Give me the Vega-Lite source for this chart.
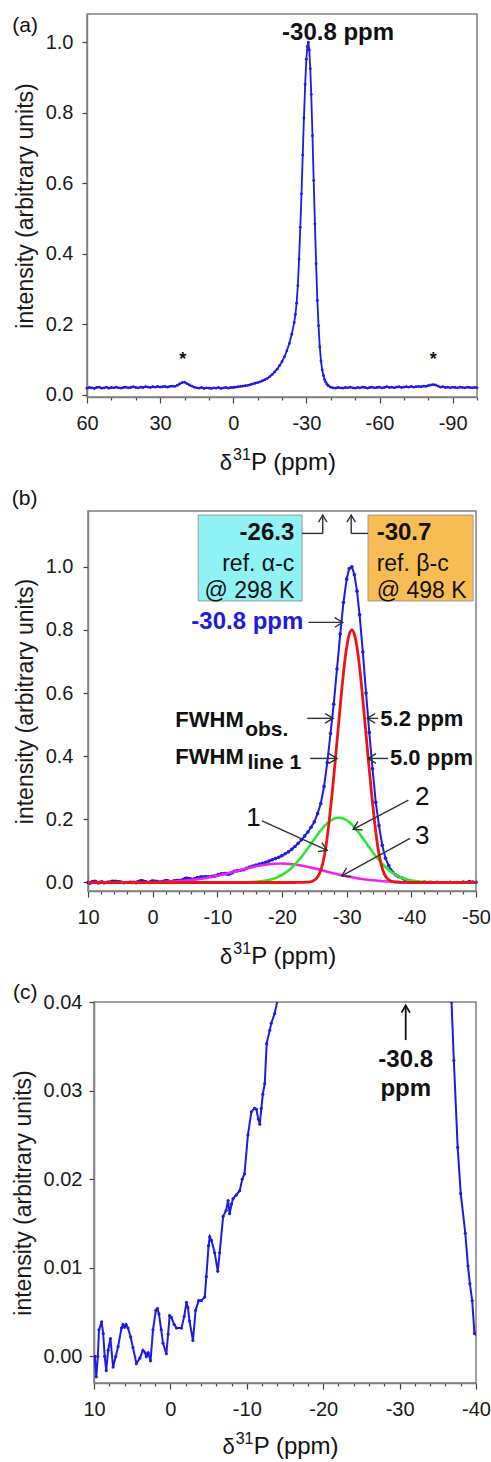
{
  "$schema": "https://vega.github.io/schema/vega-lite/v6.json",
  "padding": {"left": 10, "top": 13, "right": 0, "bottom": 0},
  "background": "white",
  "spacing": 10,
  "config": {
    "font": "Liberation Sans",
    "view": {"stroke": "#808080", "strokeWidth": 1.5},
    "axis": {
      "labelFont": "Liberation Sans",
      "labelFontSize": 20,
      "labelColor": "#1a1a1a",
      "titleFont": "Liberation Sans",
      "titleFontSize": 23,
      "titleFontWeight": "normal",
      "titleColor": "#1a1a1a",
      "grid": false,
      "domainColor": "#808080",
      "domainWidth": 1.5,
      "tickColor": "#404040",
      "tickWidth": 1.2,
      "labelFlush": false,
      "labelOverlap": false
    },
    "text": {"font": "Liberation Sans", "baseline": "middle", "color": "#111"}
  },
  "datasets": {
    "spectrum_a": [
      {"ppm": 60, "intensity": 0.019}, {"ppm": 59, "intensity": 0.021}, {"ppm": 58, "intensity": 0.020}, {"ppm": 57, "intensity": 0.018},
      {"ppm": 56, "intensity": 0.021}, {"ppm": 55, "intensity": 0.022}, {"ppm": 54, "intensity": 0.019}, {"ppm": 53, "intensity": 0.020},
      {"ppm": 52, "intensity": 0.022}, {"ppm": 51, "intensity": 0.019}, {"ppm": 50, "intensity": 0.021}, {"ppm": 49, "intensity": 0.020},
      {"ppm": 48, "intensity": 0.022}, {"ppm": 47, "intensity": 0.020}, {"ppm": 46, "intensity": 0.019}, {"ppm": 45, "intensity": 0.021},
      {"ppm": 44, "intensity": 0.022}, {"ppm": 43, "intensity": 0.020}, {"ppm": 42, "intensity": 0.021}, {"ppm": 41, "intensity": 0.023},
      {"ppm": 40, "intensity": 0.021}, {"ppm": 39, "intensity": 0.020}, {"ppm": 38, "intensity": 0.022}, {"ppm": 37, "intensity": 0.021},
      {"ppm": 36, "intensity": 0.023}, {"ppm": 35, "intensity": 0.022}, {"ppm": 34, "intensity": 0.021}, {"ppm": 33, "intensity": 0.023},
      {"ppm": 32, "intensity": 0.022}, {"ppm": 31, "intensity": 0.024}, {"ppm": 30, "intensity": 0.022}, {"ppm": 29, "intensity": 0.023},
      {"ppm": 28, "intensity": 0.024}, {"ppm": 27, "intensity": 0.022}, {"ppm": 26, "intensity": 0.024}, {"ppm": 25, "intensity": 0.025},
      {"ppm": 24, "intensity": 0.024}, {"ppm": 23, "intensity": 0.027}, {"ppm": 22, "intensity": 0.031}, {"ppm": 21, "intensity": 0.035},
      {"ppm": 20, "intensity": 0.036}, {"ppm": 19, "intensity": 0.032}, {"ppm": 18, "intensity": 0.028}, {"ppm": 17, "intensity": 0.025},
      {"ppm": 16, "intensity": 0.022}, {"ppm": 15, "intensity": 0.020}, {"ppm": 14, "intensity": 0.019}, {"ppm": 13, "intensity": 0.021},
      {"ppm": 12, "intensity": 0.018}, {"ppm": 11, "intensity": 0.020}, {"ppm": 10, "intensity": 0.019}, {"ppm": 9, "intensity": 0.018},
      {"ppm": 8, "intensity": 0.020}, {"ppm": 7, "intensity": 0.019}, {"ppm": 6, "intensity": 0.021}, {"ppm": 5, "intensity": 0.018},
      {"ppm": 4, "intensity": 0.020}, {"ppm": 3, "intensity": 0.021}, {"ppm": 2, "intensity": 0.019}, {"ppm": 1, "intensity": 0.021},
      {"ppm": 0, "intensity": 0.021}, {"ppm": -1, "intensity": 0.022}, {"ppm": -2, "intensity": 0.023}, {"ppm": -3, "intensity": 0.024},
      {"ppm": -4, "intensity": 0.025}, {"ppm": -5, "intensity": 0.026}, {"ppm": -6, "intensity": 0.027}, {"ppm": -7, "intensity": 0.029},
      {"ppm": -8, "intensity": 0.031}, {"ppm": -9, "intensity": 0.033}, {"ppm": -10, "intensity": 0.035}, {"ppm": -11, "intensity": 0.037},
      {"ppm": -12, "intensity": 0.040}, {"ppm": -13, "intensity": 0.043}, {"ppm": -14, "intensity": 0.047}, {"ppm": -15, "intensity": 0.052},
      {"ppm": -16, "intensity": 0.058}, {"ppm": -17, "intensity": 0.065}, {"ppm": -18, "intensity": 0.073}, {"ppm": -19, "intensity": 0.083},
      {"ppm": -20, "intensity": 0.094}, {"ppm": -21, "intensity": 0.108}, {"ppm": -22, "intensity": 0.125}, {"ppm": -23, "intensity": 0.146},
      {"ppm": -24, "intensity": 0.172}, {"ppm": -25, "intensity": 0.205}, {"ppm": -25.5, "intensity": 0.228}, {"ppm": -26, "intensity": 0.26},
      {"ppm": -26.5, "intensity": 0.31}, {"ppm": -27, "intensity": 0.385}, {"ppm": -27.5, "intensity": 0.475}, {"ppm": -28, "intensity": 0.57},
      {"ppm": -28.5, "intensity": 0.68}, {"ppm": -29, "intensity": 0.785}, {"ppm": -29.5, "intensity": 0.88}, {"ppm": -30, "intensity": 0.952},
      {"ppm": -30.4, "intensity": 0.988}, {"ppm": -30.8, "intensity": 1.0}, {"ppm": -31.2, "intensity": 0.978}, {"ppm": -31.6, "intensity": 0.925},
      {"ppm": -32, "intensity": 0.852}, {"ppm": -32.5, "intensity": 0.735}, {"ppm": -33, "intensity": 0.608}, {"ppm": -33.5, "intensity": 0.485},
      {"ppm": -34, "intensity": 0.372}, {"ppm": -34.5, "intensity": 0.268}, {"ppm": -35, "intensity": 0.196}, {"ppm": -35.5, "intensity": 0.136},
      {"ppm": -36, "intensity": 0.096}, {"ppm": -36.5, "intensity": 0.071}, {"ppm": -37, "intensity": 0.055}, {"ppm": -37.5, "intensity": 0.043},
      {"ppm": -38, "intensity": 0.036}, {"ppm": -38.5, "intensity": 0.030}, {"ppm": -39, "intensity": 0.026}, {"ppm": -40, "intensity": 0.022},
      {"ppm": -41, "intensity": 0.020}, {"ppm": -42, "intensity": 0.019}, {"ppm": -43, "intensity": 0.021}, {"ppm": -44, "intensity": 0.020},
      {"ppm": -45, "intensity": 0.019}, {"ppm": -46, "intensity": 0.021}, {"ppm": -47, "intensity": 0.020}, {"ppm": -48, "intensity": 0.022},
      {"ppm": -49, "intensity": 0.020}, {"ppm": -50, "intensity": 0.019}, {"ppm": -51, "intensity": 0.021}, {"ppm": -52, "intensity": 0.020},
      {"ppm": -53, "intensity": 0.022}, {"ppm": -54, "intensity": 0.021}, {"ppm": -55, "intensity": 0.019}, {"ppm": -56, "intensity": 0.021},
      {"ppm": -57, "intensity": 0.022}, {"ppm": -58, "intensity": 0.020}, {"ppm": -59, "intensity": 0.021}, {"ppm": -60, "intensity": 0.022},
      {"ppm": -61, "intensity": 0.020}, {"ppm": -62, "intensity": 0.021}, {"ppm": -63, "intensity": 0.023}, {"ppm": -64, "intensity": 0.021},
      {"ppm": -65, "intensity": 0.022}, {"ppm": -66, "intensity": 0.020}, {"ppm": -67, "intensity": 0.022}, {"ppm": -68, "intensity": 0.023},
      {"ppm": -69, "intensity": 0.021}, {"ppm": -70, "intensity": 0.022}, {"ppm": -71, "intensity": 0.023}, {"ppm": -72, "intensity": 0.022},
      {"ppm": -73, "intensity": 0.024}, {"ppm": -74, "intensity": 0.022}, {"ppm": -75, "intensity": 0.023}, {"ppm": -76, "intensity": 0.024},
      {"ppm": -77, "intensity": 0.023}, {"ppm": -78, "intensity": 0.025}, {"ppm": -79, "intensity": 0.024}, {"ppm": -80, "intensity": 0.026},
      {"ppm": -81, "intensity": 0.028}, {"ppm": -82, "intensity": 0.029}, {"ppm": -83, "intensity": 0.028}, {"ppm": -84, "intensity": 0.025},
      {"ppm": -85, "intensity": 0.022}, {"ppm": -86, "intensity": 0.023}, {"ppm": -87, "intensity": 0.021}, {"ppm": -88, "intensity": 0.022},
      {"ppm": -89, "intensity": 0.020}, {"ppm": -90, "intensity": 0.022}, {"ppm": -91, "intensity": 0.021}, {"ppm": -92, "intensity": 0.020},
      {"ppm": -93, "intensity": 0.022}, {"ppm": -94, "intensity": 0.021}, {"ppm": -95, "intensity": 0.020}, {"ppm": -96, "intensity": 0.022},
      {"ppm": -97, "intensity": 0.021}, {"ppm": -98, "intensity": 0.020}, {"ppm": -99, "intensity": 0.021}, {"ppm": -100, "intensity": 0.020}
    ],
    "observed": [
      {"ppm": 10.0, "intensity": 0.0}, {"ppm": 9.9, "intensity": 0.0}, {"ppm": 9.7, "intensity": -0.0023}, {"ppm": 9.5, "intensity": 0.0},
      {"ppm": 9.35, "intensity": 0.003}, {"ppm": 9.0, "intensity": 0.0039}, {"ppm": 8.8, "intensity": 0.0026}, {"ppm": 8.6, "intensity": 0.0},
      {"ppm": 8.4, "intensity": -0.0016}, {"ppm": 8.15, "intensity": 0.0007}, {"ppm": 7.85, "intensity": 0.002}, {"ppm": 7.5, "intensity": -0.0012},
      {"ppm": 7.15, "intensity": 0.0}, {"ppm": 6.85, "intensity": 0.0011}, {"ppm": 6.4, "intensity": 0.0032}, {"ppm": 6.2, "intensity": 0.0036},
      {"ppm": 6.0, "intensity": 0.0033}, {"ppm": 5.8, "intensity": 0.0036}, {"ppm": 5.55, "intensity": 0.0032}, {"ppm": 5.2, "intensity": 0.0022},
      {"ppm": 4.9, "intensity": 0.001}, {"ppm": 4.45, "intensity": -0.0008}, {"ppm": 4.0, "intensity": -0.0002}, {"ppm": 3.6, "intensity": 0.0007},
      {"ppm": 3.3, "intensity": 0.0004}, {"ppm": 3.15, "intensity": 0.0}, {"ppm": 2.9, "intensity": 0.0004}, {"ppm": 2.6, "intensity": -0.0005},
      {"ppm": 2.28, "intensity": 0.003}, {"ppm": 1.9, "intensity": 0.0052}, {"ppm": 1.7, "intensity": 0.0054}, {"ppm": 1.5, "intensity": 0.0048},
      {"ppm": 1.2, "intensity": 0.003}, {"ppm": 0.97, "intensity": 0.0015}, {"ppm": 0.53, "intensity": 0.0003}, {"ppm": 0.3, "intensity": 0.0025},
      {"ppm": 0.1, "intensity": 0.0046}, {"ppm": -0.13, "intensity": 0.0044}, {"ppm": -0.5, "intensity": 0.0036}, {"ppm": -0.8, "intensity": 0.0032},
      {"ppm": -1.45, "intensity": 0.0032}, {"ppm": -1.8, "intensity": 0.0045}, {"ppm": -2.1, "intensity": 0.0061}, {"ppm": -2.3, "intensity": 0.0055},
      {"ppm": -2.5, "intensity": 0.004}, {"ppm": -2.95, "intensity": 0.0018}, {"ppm": -3.3, "intensity": 0.0052}, {"ppm": -3.7, "intensity": 0.0063},
      {"ppm": -4.05, "intensity": 0.0063}, {"ppm": -4.5, "intensity": 0.0067}, {"ppm": -4.7, "intensity": 0.009}, {"ppm": -5.0, "intensity": 0.0125},
      {"ppm": -5.15, "intensity": 0.0135}, {"ppm": -5.37, "intensity": 0.0131}, {"ppm": -5.8, "intensity": 0.0117}, {"ppm": -6.2, "intensity": 0.0096},
      {"ppm": -6.45, "intensity": 0.0117}, {"ppm": -6.9, "intensity": 0.0158}, {"ppm": -7.3, "intensity": 0.0165}, {"ppm": -7.55, "intensity": 0.0176},
      {"ppm": -7.76, "intensity": 0.0161}, {"ppm": -8.0, "intensity": 0.0172}, {"ppm": -8.2, "intensity": 0.0178}, {"ppm": -8.6, "intensity": 0.0182},
      {"ppm": -9.07, "intensity": 0.0187}, {"ppm": -9.4, "intensity": 0.02}, {"ppm": -9.7, "intensity": 0.0206}, {"ppm": -10.15, "intensity": 0.025},
      {"ppm": -10.6, "intensity": 0.0276}, {"ppm": -11.0, "intensity": 0.028}, {"ppm": -11.26, "intensity": 0.0279}, {"ppm": -11.5, "intensity": 0.0268},
      {"ppm": -11.7, "intensity": 0.0262}, {"ppm": -11.9, "intensity": 0.028}, {"ppm": -12.1, "intensity": 0.0296}, {"ppm": -12.35, "intensity": 0.0308},
      {"ppm": -12.6, "intensity": 0.0353}, {"ppm": -13.0, "intensity": 0.0368}, {"ppm": -13.2, "intensity": 0.0376}, {"ppm": -13.65, "intensity": 0.0387},
      {"ppm": -14.1, "intensity": 0.0405}, {"ppm": -14.5, "intensity": 0.045}, {"ppm": -15, "intensity": 0.049}, {"ppm": -15.5, "intensity": 0.052},
      {"ppm": -16, "intensity": 0.055}, {"ppm": -16.5, "intensity": 0.058}, {"ppm": -17, "intensity": 0.061}, {"ppm": -17.5, "intensity": 0.064},
      {"ppm": -18, "intensity": 0.068}, {"ppm": -18.5, "intensity": 0.072}, {"ppm": -19, "intensity": 0.076}, {"ppm": -19.5, "intensity": 0.080},
      {"ppm": -20, "intensity": 0.085}, {"ppm": -20.5, "intensity": 0.091}, {"ppm": -21, "intensity": 0.097}, {"ppm": -21.5, "intensity": 0.105},
      {"ppm": -22, "intensity": 0.114}, {"ppm": -22.5, "intensity": 0.124}, {"ppm": -23, "intensity": 0.135}, {"ppm": -23.5, "intensity": 0.147},
      {"ppm": -24, "intensity": 0.160}, {"ppm": -24.5, "intensity": 0.175}, {"ppm": -25, "intensity": 0.192}, {"ppm": -25.5, "intensity": 0.218},
      {"ppm": -26, "intensity": 0.250}, {"ppm": -26.5, "intensity": 0.304}, {"ppm": -27, "intensity": 0.380}, {"ppm": -27.5, "intensity": 0.472},
      {"ppm": -28, "intensity": 0.565}, {"ppm": -28.5, "intensity": 0.676}, {"ppm": -29, "intensity": 0.787}, {"ppm": -29.5, "intensity": 0.887},
      {"ppm": -30, "intensity": 0.961}, {"ppm": -30.4, "intensity": 0.995}, {"ppm": -30.8, "intensity": 1.0}, {"ppm": -31.2, "intensity": 0.975},
      {"ppm": -31.6, "intensity": 0.923}, {"ppm": -32, "intensity": 0.848}, {"ppm": -32.5, "intensity": 0.730}, {"ppm": -33, "intensity": 0.600},
      {"ppm": -33.5, "intensity": 0.475}, {"ppm": -34, "intensity": 0.360}, {"ppm": -34.5, "intensity": 0.254}, {"ppm": -35, "intensity": 0.180},
      {"ppm": -35.5, "intensity": 0.118}, {"ppm": -36, "intensity": 0.077}, {"ppm": -36.5, "intensity": 0.054}, {"ppm": -36.8, "intensity": 0.040},
      {"ppm": -37.1, "intensity": 0.0334}, {"ppm": -37.6, "intensity": 0.0236}, {"ppm": -38.0, "intensity": 0.0184}, {"ppm": -38.6, "intensity": 0.0139},
      {"ppm": -38.95, "intensity": 0.0102}, {"ppm": -39.2, "intensity": 0.0082}, {"ppm": -39.5, "intensity": 0.0063}, {"ppm": -39.8, "intensity": 0.0026},
      {"ppm": -40, "intensity": 0.0025}, {"ppm": -41, "intensity": 0.0015}, {"ppm": -42, "intensity": 0.001}, {"ppm": -43, "intensity": 0.0005},
      {"ppm": -44, "intensity": 0.0008}, {"ppm": -45, "intensity": 0.0}, {"ppm": -46, "intensity": 0.0005}, {"ppm": -47, "intensity": 0.0},
      {"ppm": -48, "intensity": 0.001}, {"ppm": -49, "intensity": 0.003}, {"ppm": -49.5, "intensity": 0.0015}, {"ppm": -50, "intensity": 0.0005}
    ],
    "line_1": [
      {"ppm": 10, "intensity": 0}, {"ppm": -22, "intensity": 0}, {"ppm": -22.8, "intensity": 0.0001}, {"ppm": -23.8, "intensity": 0.0008},
      {"ppm": -24.3, "intensity": 0.002}, {"ppm": -24.8, "intensity": 0.005}, {"ppm": -25.3, "intensity": 0.012}, {"ppm": -25.8, "intensity": 0.028},
      {"ppm": -26.3, "intensity": 0.06}, {"ppm": -26.8, "intensity": 0.115}, {"ppm": -27.3, "intensity": 0.195}, {"ppm": -27.8, "intensity": 0.292},
      {"ppm": -28.3, "intensity": 0.4}, {"ppm": -28.8, "intensity": 0.513}, {"ppm": -29.3, "intensity": 0.623}, {"ppm": -29.8, "intensity": 0.716},
      {"ppm": -30.3, "intensity": 0.778}, {"ppm": -30.8, "intensity": 0.8}, {"ppm": -31.3, "intensity": 0.778}, {"ppm": -31.8, "intensity": 0.716},
      {"ppm": -32.3, "intensity": 0.623}, {"ppm": -32.8, "intensity": 0.513}, {"ppm": -33.3, "intensity": 0.4}, {"ppm": -33.8, "intensity": 0.292},
      {"ppm": -34.3, "intensity": 0.195}, {"ppm": -34.8, "intensity": 0.115}, {"ppm": -35.3, "intensity": 0.06}, {"ppm": -35.8, "intensity": 0.028},
      {"ppm": -36.3, "intensity": 0.012}, {"ppm": -36.8, "intensity": 0.005}, {"ppm": -37.3, "intensity": 0.002}, {"ppm": -37.8, "intensity": 0.0008},
      {"ppm": -38.8, "intensity": 0.0001}, {"ppm": -39.6, "intensity": 0}, {"ppm": -50, "intensity": 0}
    ],
    "line_2": [
      {"ppm": 10, "intensity": 0}, {"ppm": -13, "intensity": 0.0002}, {"ppm": -14, "intensity": 0.0006}, {"ppm": -15, "intensity": 0.0011},
      {"ppm": -16, "intensity": 0.0022}, {"ppm": -17, "intensity": 0.0043}, {"ppm": -18, "intensity": 0.0081}, {"ppm": -19, "intensity": 0.0143},
      {"ppm": -20, "intensity": 0.024}, {"ppm": -21, "intensity": 0.038}, {"ppm": -22, "intensity": 0.0569}, {"ppm": -23, "intensity": 0.0807},
      {"ppm": -24, "intensity": 0.1082}, {"ppm": -25, "intensity": 0.1374}, {"ppm": -26, "intensity": 0.165}, {"ppm": -27, "intensity": 0.1874},
      {"ppm": -28, "intensity": 0.2014}, {"ppm": -28.8, "intensity": 0.205}, {"ppm": -29.6, "intensity": 0.2014}, {"ppm": -30.6, "intensity": 0.1874},
      {"ppm": -31.6, "intensity": 0.165}, {"ppm": -32.6, "intensity": 0.1374}, {"ppm": -33.6, "intensity": 0.1082}, {"ppm": -34.6, "intensity": 0.0807},
      {"ppm": -35.6, "intensity": 0.0569}, {"ppm": -36.6, "intensity": 0.038}, {"ppm": -37.6, "intensity": 0.024}, {"ppm": -38.6, "intensity": 0.0143},
      {"ppm": -39.6, "intensity": 0.0081}, {"ppm": -40.6, "intensity": 0.0043}, {"ppm": -41.6, "intensity": 0.0022}, {"ppm": -42.6, "intensity": 0.0011},
      {"ppm": -43.6, "intensity": 0.0006}, {"ppm": -44.6, "intensity": 0.0002}, {"ppm": -50, "intensity": 0}
    ],
    "line_3": [
      {"ppm": 10, "intensity": 0}, {"ppm": 4, "intensity": 0.0001}, {"ppm": 2, "intensity": 0.0003}, {"ppm": 0, "intensity": 0.0008},
      {"ppm": -2, "intensity": 0.0019}, {"ppm": -4, "intensity": 0.004}, {"ppm": -6, "intensity": 0.0076}, {"ppm": -8, "intensity": 0.0135},
      {"ppm": -10, "intensity": 0.0212}, {"ppm": -12, "intensity": 0.0309}, {"ppm": -14, "intensity": 0.0416}, {"ppm": -16, "intensity": 0.0513},
      {"ppm": -18, "intensity": 0.0579}, {"ppm": -19.8, "intensity": 0.06}, {"ppm": -21.6, "intensity": 0.0579}, {"ppm": -23.6, "intensity": 0.0513},
      {"ppm": -25.6, "intensity": 0.0416}, {"ppm": -27.6, "intensity": 0.0309}, {"ppm": -29.6, "intensity": 0.0212}, {"ppm": -31.6, "intensity": 0.0135},
      {"ppm": -33.6, "intensity": 0.0076}, {"ppm": -35.6, "intensity": 0.004}, {"ppm": -37.6, "intensity": 0.0019}, {"ppm": -39.6, "intensity": 0.0008},
      {"ppm": -41.6, "intensity": 0.0003}, {"ppm": -43.6, "intensity": 0.0001}, {"ppm": -50, "intensity": 0}
    ]
  },
  "vconcat": [
    {
      "spacing": 0,
      "hconcat": [
        {"width": 1, "height": 1, "view": {"stroke": null}, "data": {"values": [{"gap": 0}]}, "mark": {"type": "point", "size": 0, "strokeWidth": 0, "opacity": 0}},
        {
          "width": 390,
          "height": 383,
          "encoding": {
            "x": {
              "field": "ppm", "type": "quantitative",
              "scale": {"domain": [-100, 60], "reverse": true, "nice": false, "zero": false},
              "axis": {
                "values": [60, 50, 40, 30, 20, 10, 0, -10, -20, -30, -40, -50, -60, -70, -80, -90, -100],
                "labelExpr": "datum.value % 30 === 0 ? '' + datum.value : ''",
                "tickSize": {"condition": {"test": "datum.value % 30 === 0", "value": 6}, "value": 3},
                "labelPadding": 10,
                "title": null
              }
            },
            "y": {
              "field": "intensity", "type": "quantitative",
              "scale": {"domain": [-0.006, 1.08], "nice": false, "zero": false},
              "axis": {
                "values": [0, 0.2, 0.4, 0.6, 0.8, 1],
                "labelExpr": "format(datum.value, '.1f')",
                "tickSize": 5, "labelPadding": 9, "titlePadding": 8,
                "title": "intensity (arbitrary units)"
              }
            }
          },
          "layer": [
            {"data": {"name": "spectrum_a"}, "mark": {"type": "line", "color": "#1c1ce6", "strokeWidth": 1.8}},
            {"data": {"name": "spectrum_a"}, "mark": {"type": "point", "filled": true, "size": 8, "opacity": 1, "color": "#1c1ce6"}},
            {
              "data": {"values": [{"ppm": 20.7, "intensity": 0.10, "label": "*"}, {"ppm": -82.1, "intensity": 0.10, "label": "*"}]},
              "mark": {"type": "text", "fontSize": 18, "fontWeight": "bold", "align": "center"},
              "encoding": {"text": {"field": "label"}}
            },
            {
              "data": {"values": [{"ppm": -43.0, "intensity": 1.027, "label": "-30.8 ppm"}]},
              "mark": {"type": "text", "fontSize": 24, "fontWeight": "bold", "align": "center"},
              "encoding": {"text": {"field": "label"}}
            },
            {
              "data": {"values": [{"ppm": 85.4, "intensity": 1.045, "label": "(a)"}]},
              "mark": {"type": "text", "fontSize": 21, "align": "center"},
              "encoding": {"text": {"field": "label"}}
            },
            {
              "data": {"values": [{"ppm": 0.51, "intensity": -0.193, "label": "δ"}]},
              "mark": {"type": "text", "fontSize": 22, "align": "right"},
              "encoding": {"text": {"field": "label"}}
            },
            {
              "data": {"values": [{"ppm": 0.1, "intensity": -0.17, "label": "31"}]},
              "mark": {"type": "text", "fontSize": 16, "align": "left"},
              "encoding": {"text": {"field": "label"}}
            },
            {
              "data": {"values": [{"ppm": -7.28, "intensity": -0.193, "label": "P (ppm)"}]},
              "mark": {"type": "text", "fontSize": 24, "align": "left"},
              "encoding": {"text": {"field": "label"}}
            }
          ]
        }
      ]
    },
    {
      "spacing": 0,
      "hconcat": [
        {"width": 1, "height": 460, "view": {"stroke": null}, "data": {"values": [{"gap": 0}]}, "mark": {"type": "point", "size": 0, "strokeWidth": 0, "opacity": 0}},
        {
          "width": 388,
          "height": 380,
          "encoding": {
            "x": {
              "field": "ppm", "type": "quantitative",
              "scale": {"domain": [-50, 10], "reverse": true, "nice": false, "zero": false},
              "axis": {
                "values": [10, 8, 6, 4, 2, 0, -2, -4, -6, -8, -10, -12, -14, -16, -18, -20, -22, -24, -26, -28, -30, -32, -34, -36, -38, -40, -42, -44, -46, -48, -50],
                "labelExpr": "datum.value % 10 === 0 ? '' + datum.value : ''",
                "tickSize": {"condition": {"test": "datum.value % 10 === 0", "value": 6}, "value": 3},
                "labelPadding": 10,
                "title": null
              }
            },
            "y": {
              "field": "intensity", "type": "quantitative",
              "scale": {"domain": [-0.027, 1.177], "nice": false, "zero": false},
              "axis": {
                "values": [0, 0.2, 0.4, 0.6, 0.8, 1],
                "labelExpr": "format(datum.value, '.1f')",
                "tickSize": 5, "labelPadding": 10, "titlePadding": 8,
                "title": "intensity (arbitrary units)"
              }
            }
          },
          "layer": [
            {"data": {"name": "observed"}, "mark": {"type": "line", "color": "#1c1ce6", "strokeWidth": 2}},
            {"data": {"name": "observed"}, "mark": {"type": "point", "filled": true, "size": 13, "opacity": 1, "color": "#1c1ce6"}},
            {"data": {"name": "line_3"}, "mark": {"type": "line", "color": "#ee22ee", "strokeWidth": 2.6, "interpolate": "monotone"}},
            {"data": {"name": "line_2"}, "mark": {"type": "line", "color": "#2ee62e", "strokeWidth": 2.6, "interpolate": "monotone"}},
            {"data": {"name": "line_1"}, "mark": {"type": "line", "color": "#ee1414", "strokeWidth": 2.8, "interpolate": "monotone"}},
            {
              "data": {"values": [{"ppm": -7.05, "intensity": 0.892, "ppm2": -23.1, "intensity2": 1.164}]},
              "mark": {"type": "rect", "fill": "#8ff2f5", "stroke": "#9a9a9a", "strokeWidth": 1},
              "encoding": {"x2": {"field": "ppm2"}, "y2": {"field": "intensity2"}}
            },
            {
              "data": {"values": [{"ppm": -33.3, "intensity": 0.892, "ppm2": -49.55, "intensity2": 1.164}]},
              "mark": {"type": "rect", "fill": "#f8bd52", "stroke": "#9a9a9a", "strokeWidth": 1},
              "encoding": {"x2": {"field": "ppm2"}, "y2": {"field": "intensity2"}}
            },
            {
              "data": {"values": [
                {"ppm": -23.1, "intensity": 1.106, "ppm2": -26.3, "intensity2": 1.106},
                {"ppm": -26.3, "intensity": 1.106, "ppm2": -26.3, "intensity2": 1.164},
                {"ppm": -33.3, "intensity": 1.106, "ppm2": -30.7, "intensity2": 1.106},
                {"ppm": -30.7, "intensity": 1.106, "ppm2": -30.7, "intensity2": 1.164},
                {"ppm": -24.1, "intensity": 0.824, "ppm2": -29.4, "intensity2": 0.824},
                {"ppm": -23.9, "intensity": 0.52, "ppm2": -27.9, "intensity2": 0.52},
                {"ppm": -34.87, "intensity": 0.52, "ppm2": -33.17, "intensity2": 0.52},
                {"ppm": -24.35, "intensity": 0.393, "ppm2": -28.5, "intensity2": 0.393},
                {"ppm": -36.4, "intensity": 0.393, "ppm2": -33.3, "intensity2": 0.393},
                {"ppm": -16.9, "intensity": 0.195, "ppm2": -27.0, "intensity2": 0.102},
                {"ppm": -39.55, "intensity": 0.261, "ppm2": -31.0, "intensity2": 0.168},
                {"ppm": -39.8, "intensity": 0.14, "ppm2": -29.25, "intensity2": 0.021}
              ]},
              "mark": {"type": "rule", "color": "#303030", "strokeWidth": 1.4},
              "encoding": {"x2": {"field": "ppm2"}, "y2": {"field": "intensity2"}}
            },
            {
              "data": {"values": [{"ppm": -29.4, "intensity": 0.824}, {"ppm": -27.9, "intensity": 0.52}, {"ppm": -28.5, "intensity": 0.393}]},
              "mark": {"type": "point", "shape": "M -1 -0.6 L 0 0 L -1 0.6", "filled": false, "size": 260, "angle": 0, "opacity": 1, "color": "#303030", "strokeWidth": 1.4}
            },
            {
              "data": {"values": [{"ppm": -33.17, "intensity": 0.52}, {"ppm": -33.3, "intensity": 0.393}]},
              "mark": {"type": "point", "shape": "M -1 -0.6 L 0 0 L -1 0.6", "filled": false, "size": 260, "angle": 180, "opacity": 1, "color": "#303030", "strokeWidth": 1.4}
            },
            {
              "data": {"values": [{"ppm": -26.3, "intensity": 1.164}, {"ppm": -30.7, "intensity": 1.164}]},
              "mark": {"type": "point", "shape": "M -1 -0.6 L 0 0 L -1 0.6", "filled": false, "size": 200, "angle": -90, "opacity": 1, "color": "#303030", "strokeWidth": 1.3}
            },
            {
              "data": {"values": [{"ppm": -27.0, "intensity": 0.102}]},
              "mark": {"type": "point", "shape": "M -1 -0.6 L 0 0 L -1 0.6", "filled": false, "size": 260, "angle": 23, "opacity": 1, "color": "#303030", "strokeWidth": 1.4}
            },
            {
              "data": {"values": [{"ppm": -31.0, "intensity": 0.168}, {"ppm": -29.25, "intensity": 0.021}]},
              "mark": {"type": "point", "shape": "M -1 -0.6 L 0 0 L -1 0.6", "filled": false, "size": 260, "angle": 152, "opacity": 1, "color": "#303030", "strokeWidth": 1.4}
            },
            {
              "data": {"values": [{"ppm": -21.9, "intensity": 1.108, "label": "-26.3"}]},
              "mark": {"type": "text", "fontSize": 24, "fontWeight": "bold", "align": "right"},
              "encoding": {"text": {"field": "label"}}
            },
            {
              "data": {"values": [{"ppm": -21.9, "intensity": 1.009, "label": "ref. α-c"}, {"ppm": -21.9, "intensity": 0.924, "label": "@ 298 K"}]},
              "mark": {"type": "text", "fontSize": 23, "align": "right"},
              "encoding": {"text": {"field": "label"}}
            },
            {
              "data": {"values": [{"ppm": -34.64, "intensity": 1.108, "label": "-30.7"}]},
              "mark": {"type": "text", "fontSize": 24, "fontWeight": "bold", "align": "left"},
              "encoding": {"text": {"field": "label"}}
            },
            {
              "data": {"values": [{"ppm": -34.64, "intensity": 1.009, "label": "ref. β-c"}, {"ppm": -34.64, "intensity": 0.924, "label": "@ 498 K"}]},
              "mark": {"type": "text", "fontSize": 23, "align": "left"},
              "encoding": {"text": {"field": "label"}}
            },
            {
              "data": {"values": [{"ppm": -23.3, "intensity": 0.824, "label": "-30.8 ppm"}]},
              "mark": {"type": "text", "fontSize": 24, "fontWeight": "bold", "align": "right", "color": "#1c1ce6"},
              "encoding": {"text": {"field": "label"}}
            },
            {
              "data": {"values": [
                {"ppm": -3.5, "intensity": 0.515, "label": "FWHM"},
                {"ppm": -3.5, "intensity": 0.396, "label": "FWHM"},
                {"ppm": -35.2, "intensity": 0.518, "label": "5.2 ppm"},
                {"ppm": -36.7, "intensity": 0.393, "label": "5.0 ppm"}
              ]},
              "mark": {"type": "text", "fontSize": 22, "fontWeight": "bold", "align": "left"},
              "encoding": {"text": {"field": "label"}}
            },
            {
              "data": {"values": [{"ppm": -14.3, "intensity": 0.484, "label": "obs."}, {"ppm": -14.65, "intensity": 0.377, "label": "line 1"}]},
              "mark": {"type": "text", "fontSize": 21, "fontWeight": "bold", "align": "left"},
              "encoding": {"text": {"field": "label"}}
            },
            {
              "data": {"values": [{"ppm": -15.6, "intensity": 0.204, "label": "1"}, {"ppm": -41.7, "intensity": 0.272, "label": "2"}, {"ppm": -41.7, "intensity": 0.148, "label": "3"}]},
              "mark": {"type": "text", "fontSize": 26, "align": "center"},
              "encoding": {"text": {"field": "label"}}
            },
            {
              "data": {"values": [{"ppm": 19.8, "intensity": 1.2165, "label": "(b)"}]},
              "mark": {"type": "text", "fontSize": 21, "align": "center"},
              "encoding": {"text": {"field": "label"}}
            },
            {
              "data": {"values": [{"ppm": -12.3, "intensity": -0.237, "label": "δ"}]},
              "mark": {"type": "text", "fontSize": 22, "align": "right"},
              "encoding": {"text": {"field": "label"}}
            },
            {
              "data": {"values": [{"ppm": -12.46, "intensity": -0.211, "label": "31"}]},
              "mark": {"type": "text", "fontSize": 16, "align": "left"},
              "encoding": {"text": {"field": "label"}}
            },
            {
              "data": {"values": [{"ppm": -15.24, "intensity": -0.237, "label": "P (ppm)"}]},
              "mark": {"type": "text", "fontSize": 24, "align": "left"},
              "encoding": {"text": {"field": "label"}}
            }
          ]
        }
      ]
    },
    {
      "spacing": 0,
      "hconcat": [
        {"width": 1, "height": 1, "view": {"stroke": null}, "data": {"values": [{"gap": 0}]}, "mark": {"type": "point", "size": 0, "strokeWidth": 0, "opacity": 0}},
        {
          "width": 382,
          "height": 381,
          "encoding": {
            "x": {
              "field": "ppm", "type": "quantitative",
              "scale": {"domain": [-40, 10], "reverse": true, "nice": false, "zero": false},
              "axis": {
                "values": [10, 8, 6, 4, 2, 0, -2, -4, -6, -8, -10, -12, -14, -16, -18, -20, -22, -24, -26, -28, -30, -32, -34, -36, -38, -40],
                "labelExpr": "datum.value % 10 === 0 ? '' + datum.value : ''",
                "tickSize": {"condition": {"test": "datum.value % 10 === 0", "value": 6}, "value": 3},
                "labelPadding": 10,
                "title": null
              }
            },
            "y": {
              "field": "intensity", "type": "quantitative",
              "scale": {"domain": [-0.003, 0.04], "nice": false, "zero": false},
              "axis": {
                "values": [0, 0.01, 0.02, 0.03, 0.04],
                "labelExpr": "format(datum.value, '.2f')",
                "tickSize": 5, "labelPadding": 7, "titlePadding": 8,
                "title": "intensity (arbitrary units)"
              }
            }
          },
          "layer": [
            {"data": {"name": "observed"}, "mark": {"type": "line", "color": "#1c1ce6", "strokeWidth": 2, "clip": true}},
            {"data": {"name": "observed"}, "mark": {"type": "point", "filled": true, "size": 10, "opacity": 1, "color": "#1c1ce6", "clip": true}},
            {
              "data": {"values": [{"ppm": -30.8, "intensity": 0.0357, "ppm2": -30.8, "intensity2": 0.0396}]},
              "mark": {"type": "rule", "color": "#111", "strokeWidth": 1.8},
              "encoding": {"x2": {"field": "ppm2"}, "y2": {"field": "intensity2"}}
            },
            {
              "data": {"values": [{"ppm": -30.8, "intensity": 0.0396}]},
              "mark": {"type": "point", "shape": "M -1 -0.6 L 0 0 L -1 0.6", "filled": false, "size": 200, "angle": -90, "opacity": 1, "color": "#111", "strokeWidth": 1.8}
            },
            {
              "data": {"values": [{"ppm": -30.8, "intensity": 0.0334, "label": "-30.8"}, {"ppm": -30.8, "intensity": 0.0302, "label": "ppm"}]},
              "mark": {"type": "text", "fontSize": 24, "fontWeight": "bold", "align": "center"},
              "encoding": {"text": {"field": "label"}}
            },
            {
              "data": {"values": [{"ppm": 19.0, "intensity": 0.04104, "label": "(c)"}]},
              "mark": {"type": "text", "fontSize": 21, "align": "center"},
              "encoding": {"text": {"field": "label"}}
            },
            {
              "data": {"values": [{"ppm": -8.42, "intensity": -0.01027, "label": "δ"}]},
              "mark": {"type": "text", "fontSize": 22, "align": "right"},
              "encoding": {"text": {"field": "label"}}
            },
            {
              "data": {"values": [{"ppm": -8.55, "intensity": -0.00937, "label": "31"}]},
              "mark": {"type": "text", "fontSize": 16, "align": "left"},
              "encoding": {"text": {"field": "label"}}
            },
            {
              "data": {"values": [{"ppm": -10.9, "intensity": -0.01027, "label": "P (ppm)"}]},
              "mark": {"type": "text", "fontSize": 24, "align": "left"},
              "encoding": {"text": {"field": "label"}}
            }
          ]
        }
      ]
    }
  ]
}
